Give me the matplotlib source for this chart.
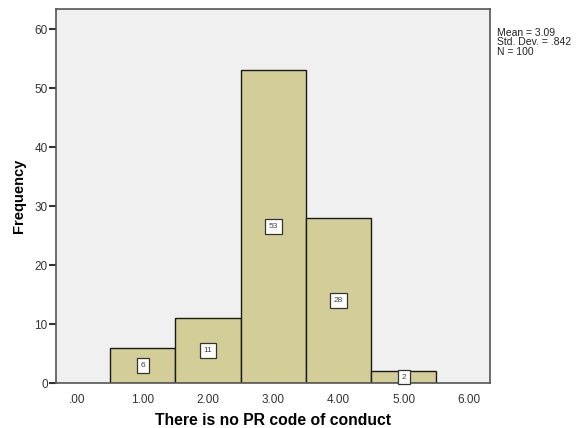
import matplotlib.pyplot as plt

plt.rcParams['font.family'] = ['Liberation Sans', 'DejaVu Sans']

# histogram data
bin_centers = [1.0, 2.0, 3.0, 4.0, 5.0]
counts = [6, 11, 53, 28, 2]
x_ticks = [0, 1, 2, 3, 4, 5, 6]
x_tick_labels = ['.00', '1.00', '2.00', '3.00', '4.00', '5.00', '6.00']
y_ticks = [0, 10, 20, 30, 40, 50, 60]
stats_text = 'Mean = 3.09\nStd. Dev. = .842\nN = 100'

fig = plt.figure(figsize=(5.79, 4.28), dpi=100)
ax = fig.add_axes([0.0967, 0.1051, 0.7496, 0.8739])
ax.set_facecolor('#F0F0F0')

ax.bar(bin_centers, counts, width=1.0, color='#D3CE97', edgecolor='#1a1a1a', lw=1.0, zorder=2)

# count labels in little white boxes
for xc, c in zip(bin_centers, counts):
    ax.text(xc, c / 2, str(c), ha='center', va='center', fontsize=6, color='#444444',
            bbox=dict(boxstyle='square,pad=0.45', fc='white', ec='#333333', lw=0.9), zorder=3)

ax.set_xlim(-0.33, 6.32)
ax.set_ylim(0, 63.4)
ax.set_xticks(x_ticks)
ax.set_xticklabels(x_tick_labels)
ax.set_yticks(y_ticks)
ax.tick_params(axis='x', length=0, pad=8, labelsize=8.5, colors='#333333')
ax.tick_params(axis='y', length=5, width=1.5, pad=1, labelsize=8.5, colors='#333333')
for s in ax.spines.values():
    s.set_color('#555555')
    s.set_linewidth(1.2)

ax.set_xlabel('There is no PR code of conduct', fontsize=11.3, fontweight='bold', labelpad=5)
ax.set_ylabel('Frequency', fontsize=10.5, fontweight='bold', labelpad=6)

fig.text(0.858, 0.935, stats_text, fontsize=7.5, va='top', ha='left', color='#222222', linespacing=0.95)

fig.savefig('out.png', dpi=100, facecolor='white')
